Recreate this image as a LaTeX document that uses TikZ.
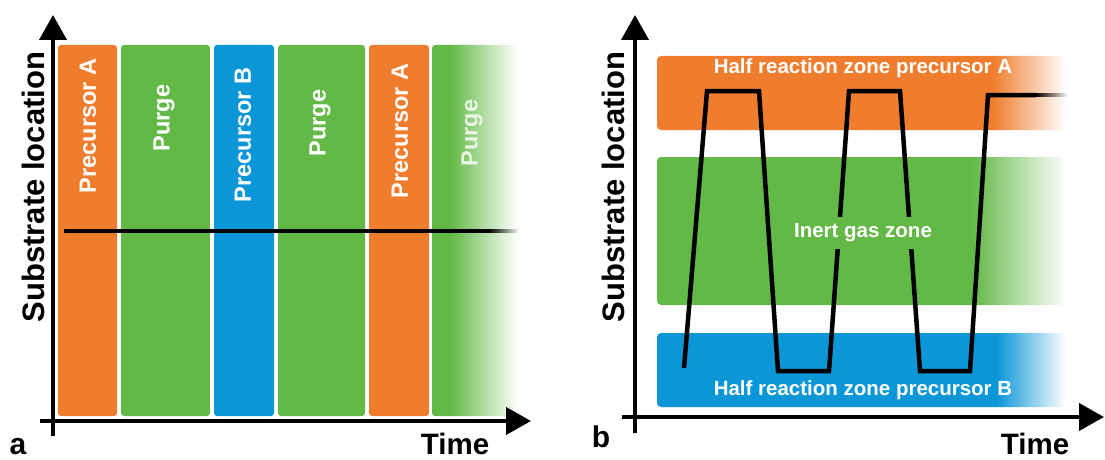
\documentclass[tikz,border=0pt]{standalone}
\usepackage{fontspec}
\setmainfont{Liberation Sans}
\usetikzlibrary{arrows.meta,fadings}
\definecolor{cOr}{RGB}{240,125,45}
\definecolor{cGr}{RGB}{98,185,70}
\definecolor{cBl}{RGB}{10,150,215}
\pgfdeclarehorizontalshading{fadeGa}{100bp}{color(0bp)=(cGr); color(35.5bp)=(cGr); color(75bp)=(white); color(100bp)=(white)}
\pgfdeclarehorizontalshading{fadeOb}{100bp}{color(0bp)=(cOr); color(66bp)=(cOr); color(75bp)=(white); color(100bp)=(white)}
\pgfdeclarehorizontalshading{fadeGb}{100bp}{color(0bp)=(cGr); color(63.5bp)=(cGr); color(75bp)=(white); color(100bp)=(white)}
\pgfdeclarehorizontalshading{fadeBb}{100bp}{color(0bp)=(cBl); color(66.5bp)=(cBl); color(75bp)=(white); color(100bp)=(white)}
\tikzset{
  axisarrow/.style={line width=4pt,-{Triangle[width=27pt,length=25pt]}},
  barshape/.style={rounded corners=3pt},
  bandshape/.style={rounded corners=4pt},
  barlabel/.style={rotate=90,text=white,font=\fontsize{23.5}{28}\selectfont\bfseries,inner sep=0pt},
  zonelabel/.style={text=white,font=\fontsize{20.5}{24}\selectfont\bfseries,inner sep=0pt},
  axislabel/.style={font=\fontsize{31}{36}\selectfont\bfseries,inner sep=0pt},
  timelabel/.style={font=\fontsize{29.5}{34}\selectfont\bfseries,inner sep=0pt,anchor=base},
  panellabel/.style={font=\fontsize{30}{34}\selectfont\bfseries,inner sep=0pt,anchor=base},
  trace/.style={line width=4.5pt},
}
\begin{document}
\begin{tikzpicture}[x=1pt,y=-1pt]
\useasboundingbox (0,0) rectangle (1105,460);
% ---------------- panel a ----------------
\fill[cOr,barshape] (58,45) rectangle (117,416);
\fill[cGr,barshape] (121,45) rectangle (210,416);
\fill[cBl,barshape] (214,45) rectangle (274,416);
\fill[cGr,barshape] (278,45) rectangle (365,416);
\fill[cOr,barshape] (369,45) rectangle (429,416);
\shade[shading=fadeGa,barshape] (432,45) rectangle (518,416);
\node[barlabel] (a1) at (88,126) {Precursor A};
\node[barlabel] (a2) at (164,118) {Purge};
\node[barlabel] (a3) at (243,135) {Precursor B};
\node[barlabel] (a4) at (320,123) {Purge};
\node[barlabel] (a5) at (400,131) {Precursor A};
\node[barlabel,text=white!85!cGr] (a6) at (472,133) {Purge};
\draw[trace] (64,231) -- (489,231);
\fill[black,path fading=east] (488,228.75) rectangle (519,233.25);
\coordinate (ayb) at (53,436);
\coordinate (ayt) at (53,15);
\coordinate (axl) at (40,421);
\coordinate (axr) at (531,421);
\draw[axisarrow] (ayb) -- (ayt);
\draw[axisarrow] (axl) -- (axr);
\node[axislabel,rotate=90] (aylab) at (33,187) {Substrate location};
\node[timelabel] (axlab) at (455,454) {Time};
\node[panellabel] (alab) at (18,454) {a};
% ---------------- panel b ----------------
\shade[shading=fadeOb,bandshape] (657,56) rectangle (1066,130);
\shade[shading=fadeGb,bandshape] (657,157) rectangle (1066,305);
\shade[shading=fadeBb,bandshape] (657,333) rectangle (1066,407);
\node[zonelabel] (zA) at (863,68) {Half reaction zone precursor A};
\node[zonelabel] (zB) at (863,390) {Half reaction zone precursor B};
\draw[trace] (684,368) -- (707,91) -- (759,91) -- (778,371) -- (829,371)
  -- (849,91) -- (900,91) -- (920,371) -- (970,371) -- (988,95) -- (1036,95);
\fill[black,path fading=east] (1035,92.75) rectangle (1068,97.25);
\node[zonelabel,fill=cGr,inner xsep=3pt,inner ysep=7pt] (zI) at (863,233) {Inert gas zone};
\coordinate (byb) at (635,433);
\coordinate (byt) at (635,15);
\coordinate (bxl) at (622,417);
\coordinate (bxr) at (1104,417);
\draw[axisarrow] (byb) -- (byt);
\draw[axisarrow] (bxl) -- (bxr);
\node[axislabel,rotate=90] (bylab) at (613,187) {Substrate location};
\node[timelabel] (bxlab) at (1035,454) {Time};
\node[panellabel] (blab) at (601,447) {b};
\end{tikzpicture}
\end{document}
